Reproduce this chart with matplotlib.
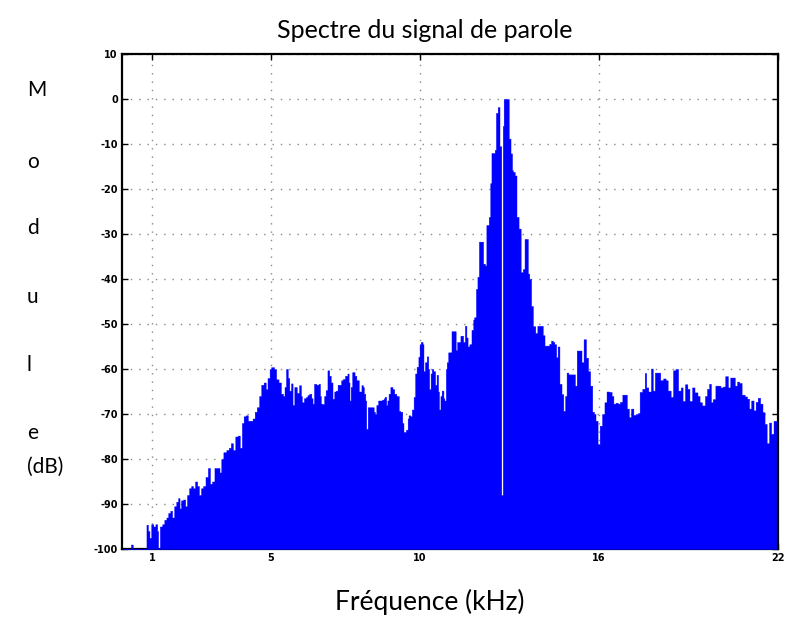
import matplotlib
matplotlib.use("Agg")
import matplotlib.pyplot as plt

plt.rcParams["axes.unicode_minus"] = False

# spectre (kHz, dB) ; chaque valeur tient jusqu'a la frequence suivante
freq_khz = [
    0.00, 0.30, 0.36, 0.82, 0.87, 0.92, 0.98, 1.05, 1.12, 1.18, 1.21, 1.27, 1.35, 1.42,
    1.49, 1.55, 1.62, 1.68, 1.75, 1.82, 1.88, 1.93, 1.98, 2.05, 2.12, 2.18, 2.25, 2.32,
    2.38, 2.45, 2.52, 2.58, 2.65, 2.72, 2.80, 2.88, 2.95, 3.02, 3.10, 3.18, 3.27, 3.33,
    3.40, 3.50, 3.58, 3.65, 3.72, 3.80, 3.88, 3.95, 4.02, 4.08, 4.15, 4.22, 4.30, 4.38,
    4.45, 4.52, 4.60, 4.67, 4.75, 4.82, 4.88, 4.95, 5.00, 5.10, 5.17, 5.25, 5.33, 5.40,
    5.45, 5.50, 5.56, 5.61, 5.67, 5.72, 5.78, 5.86, 5.94, 6.00, 6.03, 6.10, 6.17, 6.22,
    6.28, 6.35, 6.39, 6.44, 6.52, 6.59, 6.64, 6.67, 6.72, 6.78, 6.83, 6.89, 6.95, 7.00,
    7.06, 7.12, 7.17, 7.23, 7.28, 7.35, 7.41, 7.48, 7.56, 7.60, 7.63, 7.67, 7.72, 7.80,
    7.86, 7.94, 8.03, 8.08, 8.11, 8.16, 8.19, 8.24, 8.28, 8.35, 8.39, 8.44, 8.48, 8.53,
    8.59, 8.66, 8.72, 8.78, 8.81, 8.86, 8.90, 8.94, 9.00, 9.07, 9.13, 9.20, 9.28, 9.33,
    9.40, 9.44, 9.52, 9.58, 9.61, 9.67, 9.72, 9.78, 9.83, 9.88, 9.94, 9.98, 10.02, 10.08,
    10.11, 10.16, 10.22, 10.27, 10.30, 10.35, 10.39, 10.44, 10.50, 10.55, 10.60, 10.63,
    10.68, 10.72, 10.78, 10.81, 10.86, 10.89, 10.94, 11.00, 11.05, 11.15, 11.19, 11.24,
    11.30, 11.35, 11.42, 11.44, 11.50, 11.55, 11.59, 11.65, 11.72, 11.78, 11.81, 11.87,
    11.92, 11.97, 12.06, 12.11, 12.17, 12.22, 12.30, 12.35, 12.39, 12.45, 12.50, 12.54,
    12.60, 12.66, 12.72, 12.77, 12.80, 12.83, 12.90, 12.97, 13.03, 13.08, 13.11, 13.17,
    13.23, 13.30, 13.37, 13.44, 13.50, 13.58, 13.61, 13.66, 13.72, 13.78, 13.86, 13.93,
    14.05, 14.11, 14.17, 14.28, 14.33, 14.39, 14.45, 14.50, 14.56, 14.61, 14.67, 14.74,
    14.80, 14.86, 14.91, 14.97, 15.06, 15.14, 15.19, 15.25, 15.35, 15.41, 15.48, 15.53,
    15.56, 15.63, 15.70, 15.77, 15.83, 15.88, 15.95, 16.02, 16.10, 16.18, 16.25, 16.34,
    16.42, 16.48, 16.55, 16.63, 16.70, 16.78, 16.90, 16.93, 17.00, 17.07, 17.15, 17.23,
    17.30, 17.36, 17.45, 17.53, 17.58, 17.65, 17.74, 17.80, 17.87, 17.98, 18.05, 18.15,
    18.23, 18.30, 18.40, 18.48, 18.56, 18.65, 18.74, 18.80, 18.88, 18.96, 19.03, 19.12,
    19.20, 19.30, 19.37, 19.45, 19.55, 19.62, 19.69, 19.75, 19.81, 19.90, 19.98, 20.07,
    20.15, 20.23, 20.32, 20.40, 20.48, 20.55, 20.63, 20.70, 20.78, 20.88, 20.96, 21.03,
    21.10, 21.18, 21.25, 21.32, 21.40, 21.48, 21.55, 21.62, 21.70, 21.77, 21.85, 22.00,
]
module_db = [
    -100, -99, -100, -94.6, -96, -97.5, -94.5, -95, -94.5, -96, -100, -95, -94.5, -93.5,
    -93, -92, -91.5, -93, -90.5, -89.5, -88.7, -91, -89.2, -89, -90.5, -88, -86.5, -86,
    -86.5, -85, -86, -88, -86.5, -86, -84, -82, -85.5, -85, -82, -82, -83, -80,
    -78.5, -78, -77.5, -76.5, -78, -75, -74.8, -77.5, -72, -70.5, -70.3, -71.5, -71.5, -71,
    -69.5, -68.5, -66, -63.5, -63, -64.5, -62, -60, -59.6, -60, -62.3, -63, -65.5, -66,
    -64, -60, -62, -64.8, -63.2, -68, -64, -65.3, -63.6, -66, -67.4, -66.5, -66.2, -65.8,
    -65.5, -66.5, -67.7, -63.3, -63.5, -63.3, -66, -67.7, -67.8, -66, -64.7, -60.3, -61.5, -63,
    -66.6, -65, -64.8, -63.5, -63.5, -62.5, -62.2, -61.5, -61, -63, -67, -64, -60.7, -61.5,
    -62.5, -65, -63.6, -64, -65.5, -67, -73.3, -68.5, -68.5, -68.5, -68.5, -69.5, -70, -68,
    -67, -67, -66.8, -66.5, -66.2, -68, -67, -65.5, -64, -64.5, -65.5, -66, -69.3, -69.5,
    -72, -74, -73.5, -71, -70.3, -70.5, -69, -66.2, -61, -59.5, -57.3, -54.5, -54, -54.5,
    -60.5, -58.5, -57.2, -60, -64.5, -61, -60, -60.5, -63.5, -61.3, -65, -69,
    -66, -64.8, -66.5, -67, -60, -58.5, -56.3, -56.3, -51.6, -51.6, -55.8, -54,
    -54, -52.6, -52.6, -54, -50.4, -53, -55, -54.5, -51.3, -49, -48.5, -42.2,
    -39.5, -31.7, -31.7, -36.6, -37, -28, -26.2, -18.7, -12, -12, -11.3, -3.1,
    -1.8, -10.5, -88, -6, 0, 0, 0, -8.8, -12.1, -15.8, -16.2, -17,
    -26.2, -28.8, -38.5, -37.8, -31.1, -31.1, -38.8, -40, -46, -50.5, -52, -50.4,
    -50.4, -52.5, -54.8, -54.8, -54.4, -53.7, -54, -54.5, -57.4, -55, -63.3, -65.6,
    -69.3, -66, -60.8, -61.2, -61.2, -61.2, -63.7, -55.9, -55.9, -58.5, -53.4, -53.4,
    -57.5, -60.5, -63.7, -69.5, -70, -71.5, -76.7, -72.6, -70, -67.4, -65, -65.1,
    -66, -67.7, -67.5, -67.7, -67.3, -65.7, -65.7, -68.8, -70.7, -68.8, -70.2, -70,
    -69.8, -65.1, -64.4, -60.9, -64.1, -65, -59.9, -64.8, -60.8, -60.8, -62.5, -62.1,
    -62.5, -64.8, -66.2, -60.3, -60, -64.8, -64.1, -67.1, -63.4, -64.4, -67.1, -64.1,
    -65.2, -66, -67.4, -68.1, -66, -64.4, -63.3, -67.4, -66.7, -63.7, -63.7, -64.1,
    -63.9, -61.6, -64.1, -61.9, -61.9, -63.7, -62.8, -63.1, -65.7, -66.1, -66.6, -68.8,
    -67, -69.2, -67.3, -66.4, -67.7, -69.6, -72.2, -76.5, -71.9, -74.4, -71.5, -71.5,
]

x_ticks = [1, 5, 10, 16, 22]
y_ticks = list(range(-100, 11, 10))
ylabel_letters = ["M", "o", "d", "u", "l", "e", "(dB)"]
ylabel_y = [90, 162, 228, 297, 365, 433, 467]

fig = plt.figure(figsize=(7.89, 6.23), dpi=100)
ax = fig.add_axes([122 / 789, 1 - 549 / 623, 656 / 789, 495 / 623])

ax.fill_between(freq_khz, -100, module_db, step="post", color="#0000ff",
                lw=0.3, edgecolor="#0000ff", zorder=3)

ax.set_xlim(0, 22)
ax.set_ylim(-100, 10)
ax.set_xticks(x_ticks)
ax.set_yticks(y_ticks)
ax.tick_params(direction="in", length=4, width=1, labelsize=7,
               top=True, right=True, pad=3)
for lab in ax.get_xticklabels() + ax.get_yticklabels():
    lab.set_fontweight("bold")
ax.grid(True, linestyle=(0, (1, 5)), color="#888888", linewidth=1)
for s in ax.spines.values():
    s.set_linewidth(1.6)
ax.spines["right"].set_zorder(4)
ax.spines["left"].set_zorder(4)

fig.text(425 / 789, 1 - 30 / 623, "Spectre du signal de parole",
         ha="center", va="center", fontsize=18, family="Lato")
fig.text(430 / 789, 1 - 602 / 623, "Fréquence (kHz)",
         ha="center", va="center", fontsize=19, family="Lato")
for lab, yy in zip(ylabel_letters, ylabel_y):
    fig.text(27 / 789, 1 - yy / 623, lab, ha="left", va="center",
             fontsize=15, family="Lato")

fig.savefig("out.png", dpi=100)
